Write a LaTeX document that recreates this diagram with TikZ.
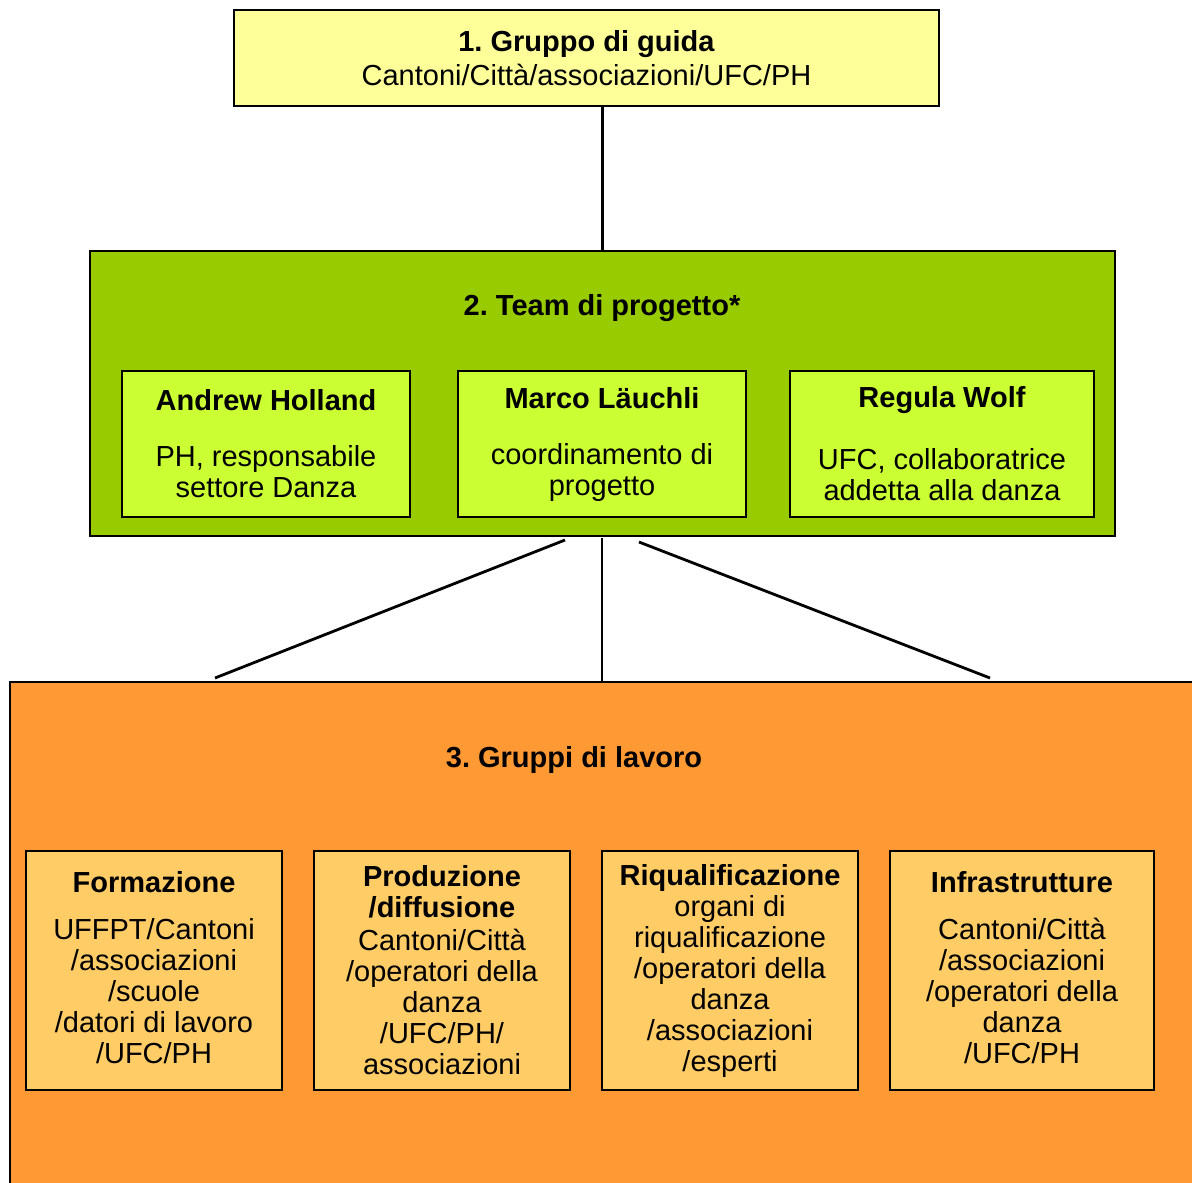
\documentclass[tikz,border=0pt]{standalone}
\usepackage{fontspec}
\setmainfont{Liberation Sans}
\usepackage{xcolor}
\usetikzlibrary{shadows}
\frenchspacing

\definecolor{guidayellow}{HTML}{FFFF99}
\definecolor{teamgreen}{HTML}{99CC00}
\definecolor{teamlime}{HTML}{CCFF33}
\definecolor{lavoroorange}{HTML}{FF9933}
\definecolor{gruppolight}{HTML}{FFCC66}

\begin{document}
\begin{tikzpicture}[x=0.5pt, y=-0.5pt,
    box/.style={draw, line width=0.9pt, inner sep=0pt, align=center,
                font=\fontsize{14.5}{15.5}\selectfont},
    smallbox/.style={box, drop shadow={shadow xshift=0.6pt, shadow yshift=-0.6pt, fill=black, opacity=1}},
    title/.style={font=\fontsize{14.5}{15.5}\selectfont\bfseries},
    link/.style={line width=1.4pt}]
        \useasboundingbox (0,0) rectangle (1192,1182);
        \clip (0,0) rectangle (1192,1182);

        % 1. gruppo di guida
        \node[box, fill=guidayellow, minimum width=352.5pt, minimum height=48pt] (guida) at (586.5,58)
            {\textbf{1. Gruppo di guida}\\[1.5pt]Cantoni/Città/associazioni/UFC/PH};

        % 2. team di progetto
        \node[box, fill=teamgreen, minimum width=512.5pt, minimum height=142.5pt] (team) at (602.5,393.5) {};
        \node[title] (teamtitle) at (602,308) {2. Team di progetto*};
        \node[smallbox, fill=teamlime, minimum width=144pt, minimum height=73pt] (holland) at (266,444)
            {\textbf{Andrew Holland}\\[12.5pt]PH, responsabile\\settore Danza};
        \node[smallbox, fill=teamlime, minimum width=144pt, minimum height=73pt] (lauchli) at (602,444)
            {\textbf{Marco Läuchli}\\[12.5pt]coordinamento di\\progetto};
        \node[smallbox, fill=teamlime, minimum width=152pt, minimum height=73pt] (wolf) at (942,444)
            {\textbf{Regula Wolf}\\[15.5pt]UFC, collaboratrice\\addetta alla danza};

        % 3. gruppi di lavoro
        \node[box, fill=lavoroorange, minimum width=600pt, minimum height=259pt] (lavoro) at (610,941) {};
        \node[title] (lavorotitle) at (574,760) {3. Gruppi di lavoro};
        \node[smallbox, fill=gruppolight, minimum width=128pt, minimum height=119.5pt] (formazione) at (154,970.5)
            {\textbf{Formazione}\\[8pt]UFFPT/Cantoni\\/associazioni\\/scuole\\/datori di lavoro\\/UFC/PH\\[-12.5pt]{}};
        \node[smallbox, fill=gruppolight, minimum width=128pt, minimum height=119.5pt] (produzione) at (442,970.5)
            {\textbf{Produzione}\\\textbf{/diffusione}\\[1pt]Cantoni/Città\\/operatori della\\danza\\/UFC/PH/\\associazioni};
        \node[smallbox, fill=gruppolight, minimum width=128pt, minimum height=119.5pt] (riqualifica) at (730,970.5)
            {\textbf{Riqualificazione}\\organi di\\riqualificazione\\/operatori della\\danza\\/associazioni\\/esperti};
        \node[smallbox, fill=gruppolight, minimum width=132pt, minimum height=119.5pt] (infra) at (1022,970.5)
            {\textbf{Infrastrutture}\\[8pt]Cantoni/Città\\/associazioni\\/operatori della\\danza\\/UFC/PH\\[-12.5pt]{}};

        % connectors
        \coordinate (tl) at (565,540);
        \coordinate (tm) at (602,538);
        \coordinate (tr) at (639,542);
        \coordinate (ll) at (215,678);
        \coordinate (lr) at (990,678);

        \draw[link] (team.north |- guida.south) -- (team.north);
        \draw[link] (tl) -- (ll);
        \draw[link] (tm) -- (tm |- lavoro.north);
        \draw[link] (tr) -- (lr);
\end{tikzpicture}
\end{document}
